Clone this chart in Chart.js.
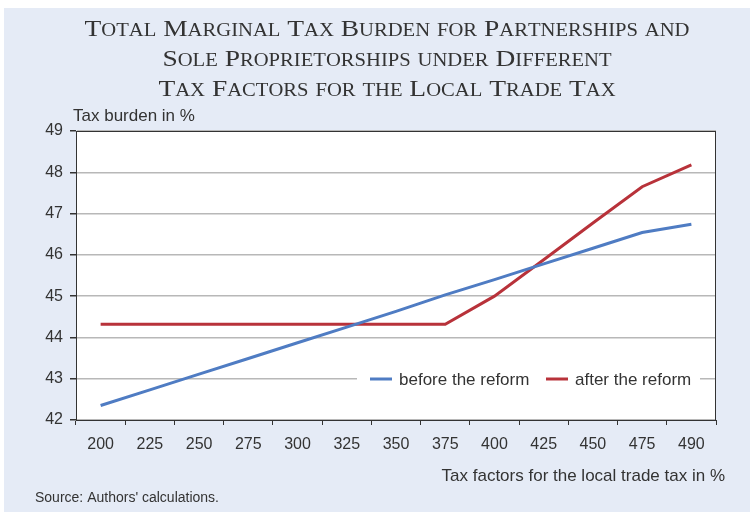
<!DOCTYPE html>
<html>
<head>
<meta charset="utf-8">
<script src="https://cdn.jsdelivr.net/npm/chart.js@4"></script>
<style>
  html, body { margin: 0; padding: 0; background: #fff; }
  #wrap { width: 750px; height: 512px; }
</style>
</head>
<body>
<div id="wrap"><canvas id="myChart" width="750" height="512"></canvas></div>
<script>
var taxFactors = ['200', '225', '250', '275', '300', '325', '350', '375', '400', '425', '450', '475', '490'];
var beforeReform = [42.35, 42.73, 43.11, 43.49, 43.87, 44.25, 44.63, 45.03, 45.40, 45.78, 46.16, 46.54, 46.74];
var afterReform = [44.32, 44.32, 44.32, 44.32, 44.32, 44.32, 44.32, 44.32, 45.0, 45.88, 46.77, 47.65, 48.18];
var titleLines = ['Total Marginal Tax Burden for Partnerships and', 'Sole Proprietorships under Different', 'Tax Factors for the Local Trade Tax'];

var serif = '"Liberation Serif", "Times New Roman", serif';

// draws a line in small caps: capitals full size, lower case as smaller capitals
function smallCapsWidth(ctx, text, big, small) {
  var w = 0;
  for (var i = 0; i < text.length; i++) {
    var c = text[i];
    var lower = c !== c.toUpperCase();
    ctx.font = (lower ? small : big) + 'px ' + serif;
    w += ctx.measureText(c.toUpperCase()).width;
  }
  return w;
}
function drawSmallCaps(ctx, text, cx, y, big, small, sx) {
  var w = smallCapsWidth(ctx, text, big, small) * sx;
  var x = cx - w / 2;
  ctx.textAlign = 'left';
  for (var i = 0; i < text.length; i++) {
    var c = text[i];
    var lower = c !== c.toUpperCase();
    ctx.font = (lower ? small : big) + 'px ' + serif;
    var cw = ctx.measureText(c.toUpperCase()).width;
    ctx.save();
    ctx.translate(x, y);
    ctx.scale(sx, 1);
    ctx.fillText(c.toUpperCase(), 0, 0);
    ctx.restore();
    x += cw * sx;
  }
}

var decor = {
  id: 'decor',
  beforeDraw: function(chart) {
    var ctx = chart.ctx, a = chart.chartArea;
    ctx.save();
    ctx.fillStyle = '#ffffff';
    ctx.fillRect(0, 0, chart.width, chart.height);
    ctx.fillStyle = '#e5ebf6';
    ctx.fillRect(4, 8, chart.width - 4, chart.height - 8);
    ctx.fillStyle = '#ffffff';
    ctx.fillRect(a.left, a.top, a.right - a.left, a.bottom - a.top);
    ctx.restore();
  },
  beforeDatasetsDraw: function(chart) {
    var ctx = chart.ctx;
    // legend box inside the plot
    ctx.save();
    ctx.fillStyle = '#ffffff';
    ctx.fillRect(357, 368, 343, 22);
    ctx.font = '17px "Liberation Sans", Arial, sans-serif';
    ctx.textBaseline = 'middle';
    ctx.fillStyle = '#333333';
    var items = [[370, chart.data.datasets[0]], [546, chart.data.datasets[1]]];
    items.forEach(function(it) {
      ctx.strokeStyle = it[1].borderColor;
      ctx.lineWidth = 3;
      ctx.beginPath();
      ctx.moveTo(it[0], 379);
      ctx.lineTo(it[0] + 22, 379);
      ctx.stroke();
      ctx.fillText(it[1].label, it[0] + 29, 380);
    });
    ctx.restore();
  },
  afterDraw: function(chart) {
    var ctx = chart.ctx, a = chart.chartArea;
    ctx.save();
    ctx.strokeStyle = '#333333';
    ctx.lineWidth = 1;
    ctx.strokeRect(a.left + 0.5, a.top + 0.5, a.right - a.left - 1, a.bottom - a.top);
    ctx.fillStyle = '#333333';
    ctx.textBaseline = 'alphabetic';
    var w1 = smallCapsWidth(ctx, titleLines[0], 24, 18);
    var sx = 605 / w1;
    titleLines.forEach(function(t, i) {
      drawSmallCaps(ctx, t, 387, 36 + i * 30, 24, 18, sx);
    });
    ctx.font = '17px "Liberation Sans", Arial, sans-serif';
    ctx.textAlign = 'left';
    ctx.fillText('Tax burden in %', 73, 121);
    ctx.textAlign = 'right';
    ctx.fillText('Tax factors for the local trade tax in %', 725, 481);
    ctx.textAlign = 'left';
    ctx.font = '14px "Liberation Sans", Arial, sans-serif';
    ctx.fillText("Source: Authors' calculations.", 35, 502);
    ctx.restore();
  }
};

Chart.defaults.font.family = '"Liberation Sans", Arial, sans-serif';
Chart.defaults.color = '#333333';

var ctx = document.getElementById('myChart').getContext('2d');
var myChart = new Chart(ctx, {
  type: 'line',
  data: {
    labels: taxFactors,
    datasets: [{
      label: 'before the reform',
      data: beforeReform,
      borderColor: '#4f7cc3',
      borderWidth: 3,
      pointRadius: 0,
      tension: 0
    }, {
      label: 'after the reform',
      data: afterReform,
      borderColor: '#b8323a',
      borderWidth: 3,
      pointRadius: 0,
      tension: 0
    }]
  },
  options: {
    responsive: false,
    animation: false,
    layout: { padding: { top: 131, right: 34, left: 0, bottom: 0 } },
    plugins: {
      legend: { display: false },
      title: { display: false },
      tooltip: { enabled: false }
    },
    scales: {
      x: {
        offset: true,
        grid: { offset: true, drawOnChartArea: false, tickLength: 5, color: '#333333', tickColor: '#333333' },
        border: { color: '#333333' },
        ticks: { font: { size: 16 }, padding: 10, maxRotation: 0, color: '#333333' },
        afterFit: function(s) { s.height = 92; }
      },
      y: {
        min: 42,
        max: 49,
        ticks: { stepSize: 1, font: { size: 16 }, padding: 7, color: '#333333' },
        grid: { color: '#b8b8b8', lineWidth: 1.5, tickLength: 6, tickColor: '#333333' },
        border: { color: '#333333' },
        afterFit: function(s) { s.width = 76; }
      }
    }
  },
  plugins: [decor]
});
</script>
</body>
</html>
